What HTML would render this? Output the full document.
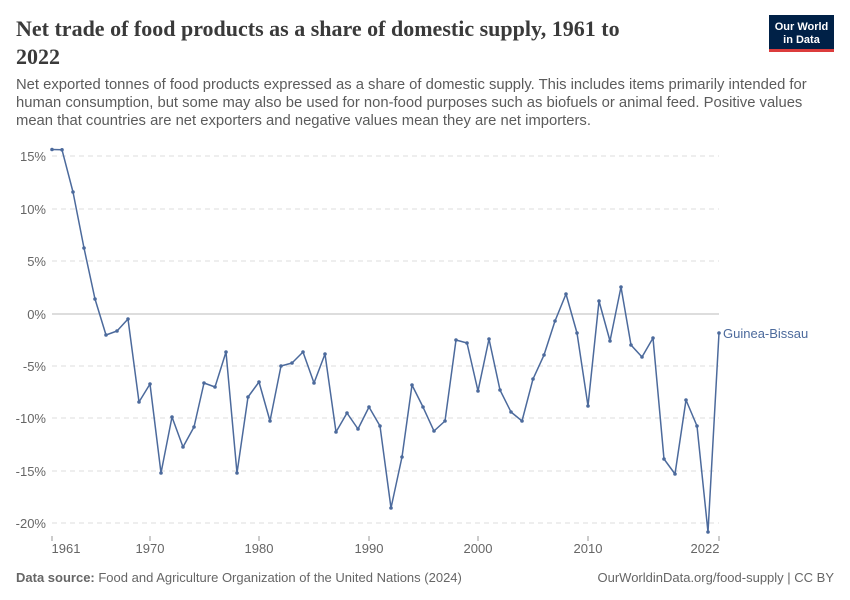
<!DOCTYPE html>
<html><head><meta charset="utf-8"><style>
body{margin:0;background:#fff;font-family:"Liberation Sans",sans-serif;}
</style></head><body>
<svg width="850" height="600" xmlns="http://www.w3.org/2000/svg" style="display:block">
<text x="16" y="36" font-family="Liberation Serif,serif" font-size="22" font-weight="bold" fill="#3a3a3a">Net trade of food products as a share of domestic supply, 1961 to</text>
<text x="16" y="64" font-family="Liberation Serif,serif" font-size="22" font-weight="bold" fill="#3a3a3a">2022</text>
<rect x="769" y="15" width="65" height="36" fill="#002147"/>
<rect x="769" y="49" width="65" height="3" fill="#dc3c3c"/>
<text x="801.5" y="30" font-size="11" fill="#fff" text-anchor="middle" font-weight="bold">Our World</text>
<text x="801.5" y="43" font-size="11" fill="#fff" text-anchor="middle" font-weight="bold">in Data</text>
<g font-size="14.8" fill="#5b5b5b">
<text x="16" y="89">Net exported tonnes of food products expressed as a share of domestic supply. This includes items primarily intended for</text>
<text x="16" y="107">human consumption, but some may also be used for non-food purposes such as biofuels or animal feed. Positive values</text>
<text x="16" y="125">mean that countries are net exporters and negative values mean they are net importers.</text>
</g>
<g stroke="#ddd" stroke-dasharray="5,4" stroke-width="1">
<line x1="52" x2="719" y1="156" y2="156"/><line x1="52" x2="719" y1="209" y2="209"/>
<line x1="52" x2="719" y1="261" y2="261"/><line x1="52" x2="719" y1="366" y2="366"/>
<line x1="52" x2="719" y1="418" y2="418"/><line x1="52" x2="719" y1="471" y2="471"/>
<line x1="52" x2="719" y1="523" y2="523"/>
</g>
<line x1="52" x2="719" y1="314" y2="314" stroke="#bbb" stroke-width="1"/>
<g font-size="13" fill="#666" text-anchor="end">
<text x="46" y="161">15%</text><text x="46" y="214">10%</text><text x="46" y="266">5%</text>
<text x="46" y="319">0%</text><text x="46" y="371">-5%</text><text x="46" y="423">-10%</text>
<text x="46" y="476">-15%</text><text x="46" y="528">-20%</text>
</g>
<g stroke="#999"><line x1="52" x2="52" y1="536" y2="541"/><line x1="150" x2="150" y1="536" y2="541"/><line x1="259" x2="259" y1="536" y2="541"/><line x1="369" x2="369" y1="536" y2="541"/><line x1="478" x2="478" y1="536" y2="541"/><line x1="588" x2="588" y1="536" y2="541"/><line x1="719" x2="719" y1="536" y2="541"/></g>
<g font-size="13" fill="#666" text-anchor="middle">
<text x="66" y="553">1961</text><text x="150" y="553">1970</text><text x="259" y="553">1980</text><text x="369" y="553">1990</text><text x="478" y="553">2000</text><text x="588" y="553">2010</text><text x="705" y="553">2022</text>
</g>
<polyline fill="none" stroke="#4c6a9c" stroke-width="1.5" stroke-linejoin="round" points="52,149.5 62,149.8 73,192 84,248 95,299 106,335 117,331 128,319 139,402 150,384 161,473 172,417 183,447 194,427 204,383 215,387 226,352 237,473 248,397 259,382 270,421 281,366 292,363 303,352 314,383 325,354 336,432 347,413 358,429 369,407 380,426 391,508 402,457 412,385 423,407 434,431 445,421 456,340 467,343 478,391 489,339 500,390 511,412 522,421 533,379 544,355 555,321 566,294 577,333 588,406 599,301 610,341 621,287 631,345 642,357 653,338 664,459 675,474 686,400 697,426 708,532 719,333"/>
<g fill="#4c6a9c" id="dots"></g>
<text x="723" y="338" font-size="13" fill="#4c6a9c">Guinea-Bissau</text>
<text x="16" y="582" font-size="13" fill="#666"><tspan font-weight="bold">Data source:</tspan> Food and Agriculture Organization of the United Nations (2024)</text>
<text x="834" y="582" font-size="13" fill="#666" text-anchor="end">OurWorldinData.org/food-supply | CC BY</text>
</svg>
<script>
var p=document.querySelector('polyline').getAttribute('points').trim().split(/\s+/);var g=document.getElementById('dots');
p.forEach(function(s){var a=s.split(',');var c=document.createElementNS('http://www.w3.org/2000/svg','circle');c.setAttribute('cx',a[0]);c.setAttribute('cy',a[1]);c.setAttribute('r','1.8');g.appendChild(c);});
</script>
</body></html>
